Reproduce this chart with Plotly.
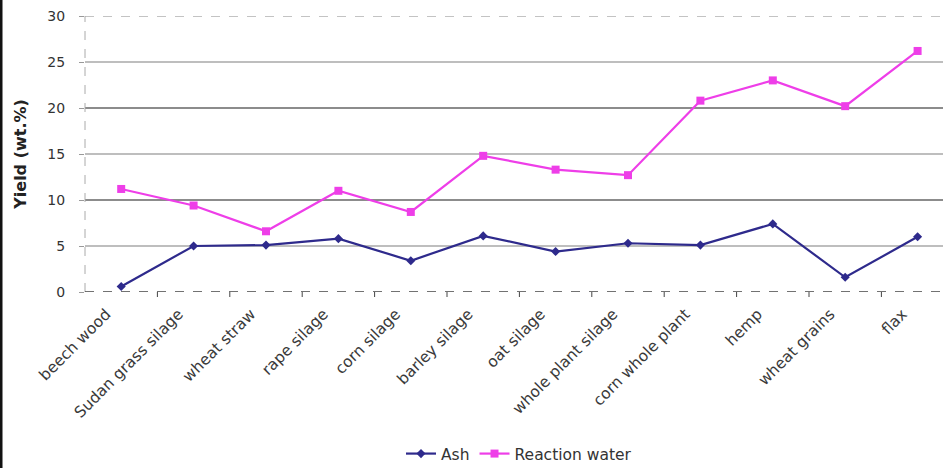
import plotly.graph_objects as go

# Feedstocks along the x axis
feedstocks = [
    "beech wood", "Sudan grass silage", "wheat straw", "rape silage",
    "corn silage", "barley silage", "oat silage", "whole plant silage",
    "corn whole plant", "hemp", "wheat grains", "flax",
]

# Yields in wt.%
ash = [0.6, 5.0, 5.1, 5.8, 3.4, 6.1, 4.4, 5.3, 5.1, 7.4, 1.6, 6.0]
reaction_water = [11.2, 9.4, 6.6, 11.0, 8.7, 14.8, 13.3, 12.7, 20.8, 23.0, 20.2, 26.2]

y_ticks = [0, 5, 10, 15, 20, 25, 30]

W, H = 943, 468
ML, MR, MT, MB = 85, 0, 16, 176
PW = W - ML - MR
PH = H - MT - MB
FONT = "DejaVu Sans, Verdana, sans-serif"

x_idx = list(range(len(feedstocks)))

fig = go.Figure()
fig.add_trace(go.Scatter(
    x=x_idx, y=ash, name="Ash", mode="lines+markers",
    line=dict(color="#2e2a8c", width=2.2),
    marker=dict(symbol="diamond", size=7, color="#2e2a8c"),
))
fig.add_trace(go.Scatter(
    x=x_idx, y=reaction_water, name="Reaction water", mode="lines+markers",
    line=dict(color="#ee3ee8", width=2.2),
    marker=dict(symbol="square", size=8, color="#ee3ee8"),
))

shapes = []
# horizontal gridlines
for v in y_ticks[1:-1]:
    shapes.append(dict(
        type="line", xref="paper", yref="y", x0=0, x1=1, y0=v, y1=v,
        line=dict(color="#666666" if v % 10 == 0 else "#a8a8a8", width=1.3),
        layer="below",
    ))
# dashed top border
shapes.append(dict(type="line", xref="paper", yref="y", x0=0, x1=1, y0=30, y1=30,
                   line=dict(color="#888888", width=1.2, dash="dash"), layer="below"))
# dashed left border
shapes.append(dict(type="line", xref="paper", yref="paper", x0=0, x1=0, y0=0, y1=1,
                   line=dict(color="#aaaaaa", width=1, dash="dash"), layer="below"))
# bottom axis line
shapes.append(dict(type="line", xref="paper", yref="y", x0=0, x1=1, y0=0, y1=0,
                   line=dict(color="#444444", width=1.5, dash="dash"), layer="below"))
# dark frame edge on the left of the page
shapes.append(dict(type="rect", xref="paper", yref="paper",
                   x0=-ML / PW, x1=-(ML - 2.5) / PW, y0=-MB / PH, y1=1 + MT / PH,
                   fillcolor="#111111", line=dict(width=0)))

fig.update_layout(
    width=W, height=H,
    margin=dict(l=ML, r=MR, t=MT, b=MB, autoexpand=False),
    paper_bgcolor="white", plot_bgcolor="white",
    font=dict(family=FONT, size=14, color="#333333"),
    showlegend=True,
    legend=dict(orientation="h", xref="container", yref="container",
                x=519 / W, xanchor="center", y=1 - 454 / H, yanchor="middle",
                font=dict(family=FONT, size=15.5, color="#333333"), tracegroupgap=0),
    shapes=shapes,
    xaxis=dict(
        tickmode="array", tickvals=x_idx, ticktext=feedstocks,
        range=[-0.5, -0.5 + PW / 72.4],
        tickangle=-45, showgrid=False, zeroline=False, showline=False,
        ticks="outside", ticklen=6, tickcolor="rgba(0,0,0,0)",
        ticklabelshift=-15, automargin=False,
        tickfont=dict(family=FONT, size=15.5, color="#3a3a3a"),
    ),
    yaxis=dict(
        range=[0, 30], tickvals=y_ticks, ticktext=[str(v) for v in y_ticks],
        showgrid=False, zeroline=False, showline=False,
        ticks="outside", ticklen=5, tickcolor="#999999", ticklabelstandoff=11,
        automargin=False,
        tickfont=dict(family=FONT, size=14, color="#333333"),
        title=dict(text="<b>Yield (wt.%)</b>", font=dict(family=FONT, size=16, color="#222222"),
                   standoff=16),
    ),
)

# category boundary tick marks on the x axis
for b in [i + 0.5 for i in x_idx[:-1]]:
    fig.add_shape(type="line", xref="x", yref="paper", x0=b, x1=b, y0=0, y1=-5 / PH,
                  line=dict(color="#444444", width=1))

fig.write_html("out.html")
